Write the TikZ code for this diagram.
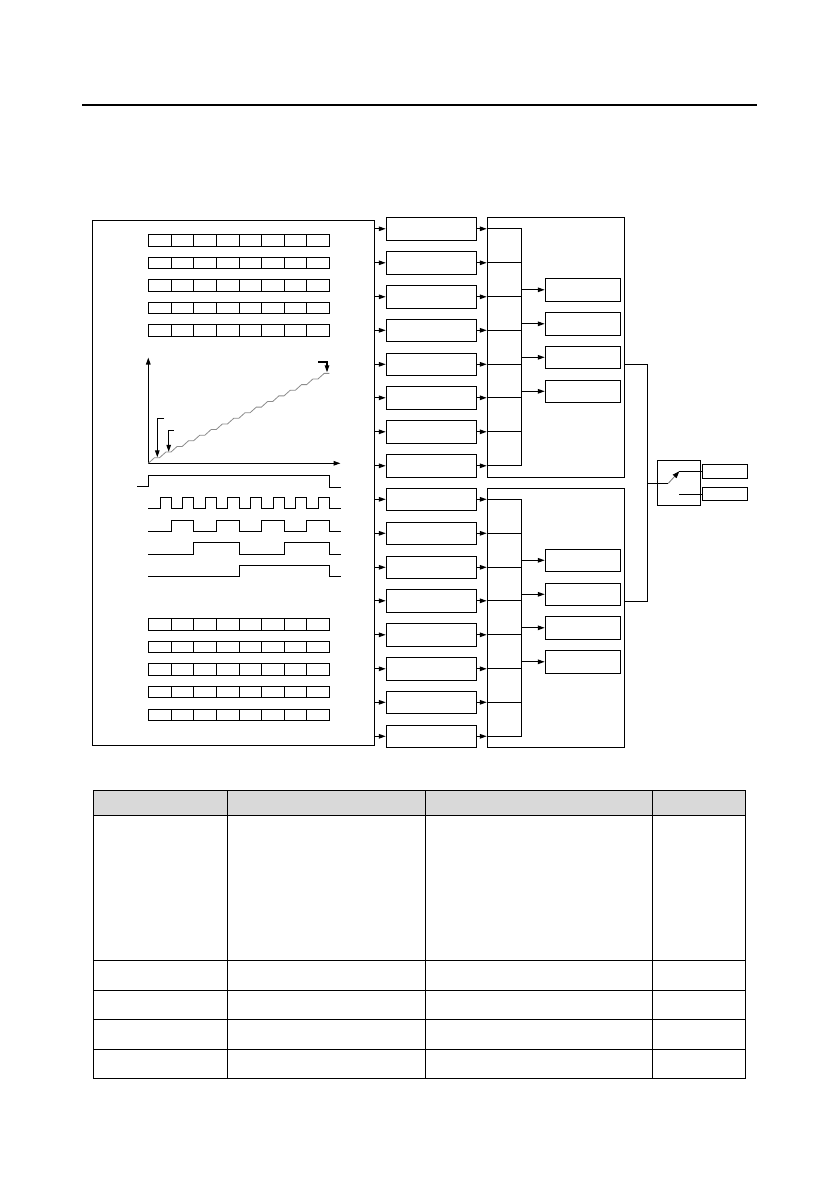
\documentclass[tikz,border=0pt]{standalone}
\usetikzlibrary{arrows.meta}
\tikzset{
  x=1pt,y=-1pt,
  ln/.style={line width=1.25pt,black},
  arr/.style={line width=1.25pt,black,-{Triangle[length=7pt,width=4.5pt]},shorten >=0.5pt},
  thin stair/.style={line width=0.8pt,black!45},
}
\newcommand{\bx}[5]{% name, x1, y1, x2, y2
  \pgfmathsetmacro{\bw}{#4-#2}\pgfmathsetmacro{\bh}{#5-#3}
  \pgfmathsetmacro{\bcx}{(#4+#2)/2}\pgfmathsetmacro{\bcy}{(#5+#3)/2}
  \node[draw,ln,fill=white,rectangle,inner sep=0pt,outer sep=0pt,minimum width=\bw pt,minimum height=\bh pt] (#1) at (\bcx,\bcy) {};
}
\newcommand{\regrow}[2]{% y1,y2
  \draw[ln] (148.3,#1) rectangle (329.3,#2);
  \foreach \vx in {171.3,193.3,216.3,239.3,261.3,284.3,306.3}{\draw[ln] (\vx,#1) -- (\vx,#2);}
}
\begin{document}
\begin{tikzpicture}
\useasboundingbox (0,0) rectangle (839,1191);
\fill[white] (0,0) rectangle (839,1191);
% top rule
\draw[line width=2pt] (82,104.5) -- (757,104.5);
% left panel
\bx{src}{92.3}{220.3}{374.7}{745.3}
\regrow{234.3}{246.3}\regrow{257.3}{268.3}\regrow{279.3}{291.3}\regrow{302.3}{313.3}\regrow{324.3}{336.3}
\regrow{618.3}{630.3}\regrow{641.3}{652.3}\regrow{663.3}{675.3}\regrow{686.3}{697.3}\regrow{709.3}{720.3}
% axes
\coordinate (org) at (148.3,463.3);
\coordinate (yend) at (148.3,357.5);
\coordinate (xend) at (340.5,463.3);
\draw[arr,shorten >=0pt] (org) -- (yend);
\draw[arr,shorten >=0pt] (org) -- (xend);
% staircase ramp
\draw[thin stair] (org)
 \foreach \i in {0,...,15}{
   -- ({148.3+(\i+0.55)*11.31},{463.3-(\i+1)*5.62}) -- ({148.3+(\i+1)*11.31},{463.3-(\i+1)*5.62})
 };
% level arrows
\draw[arr,line width=1.1pt] (164,418.3) -- (157.3,418.3) -- (157.3,457.8);
\draw[arr,line width=1.1pt] (173.7,430.3) -- (168.7,430.3) -- (168.7,452.3);
\draw[arr,line width=1.1pt] (318,362) -- (327,362) -- (327,372.8);
% waveforms
\draw[ln] (137,486.3) -- (148.3,486.3) -- (148.3,475.3) -- (329.3,475.3) -- (329.3,487.3) -- (340.7,487.3);
\draw[ln] (148.3,508.3) -- (160.3,508.3) -- (160.3,497.3) -- (171.3,497.3) -- (171.3,508.3) -- (182.3,508.3) -- (182.3,497.3) -- (193.3,497.3) -- (193.3,508.3) -- (205.3,508.3) -- (205.3,497.3) -- (216.3,497.3) -- (216.3,508.3) -- (227.3,508.3) -- (227.3,497.3) -- (239.3,497.3) -- (239.3,508.3) -- (250.3,508.3) -- (250.3,497.3) -- (261.3,497.3) -- (261.3,508.3) -- (273.3,508.3) -- (273.3,497.3) -- (284.3,497.3) -- (284.3,508.3) -- (295.3,508.3) -- (295.3,497.3) -- (306.3,497.3) -- (306.3,508.3) -- (318.3,508.3) -- (318.3,497.3) -- (329.3,497.3) -- (329.3,508.3) -- (340.7,508.3);
\draw[ln] (148.3,531.3) -- (171.3,531.3) -- (171.3,520.3) -- (193.3,520.3) -- (193.3,531.3) -- (216.3,531.3) -- (216.3,520.3) -- (239.3,520.3) -- (239.3,531.3) -- (261.3,531.3) -- (261.3,520.3) -- (284.3,520.3) -- (284.3,531.3) -- (306.3,531.3) -- (306.3,520.3) -- (329.3,520.3) -- (329.3,531.3) -- (340.7,531.3);
\draw[ln] (148.3,554.3) -- (193.3,554.3) -- (193.3,542.3) -- (239.3,542.3) -- (239.3,554.3) -- (284.3,554.3) -- (284.3,542.3) -- (329.3,542.3) -- (329.3,554.3) -- (340.7,554.3);
\draw[ln] (148.3,576.3) -- (239.3,576.3) -- (239.3,565.3) -- (329.3,565.3) -- (329.3,576.3) -- (340.7,576.3);
% group panels
\bx{gA}{487.3}{217.3}{624.5}{477.3}
\bx{gB}{487.3}{488.3}{624.5}{747.3}
% middle boxes
\foreach \n/\a/\b in {a1/217.3/240.3,a2/251.3/274.3,a3/285.3/308.3,a4/319.3/341.3,a5/353.3/375.3,a6/386.3/409.3,a7/420.3/443.3,a8/454.3/477.3}{
  \bx{\n}{386.3}{\a}{476.3}{\b}
  \draw[arr] (src.east |- \n.west) -- (\n.west);
  \draw[arr] (\n.east) -- (gA.west |- \n.east);
}
\foreach \n/\a/\b in {b1/488.3/510.3,b2/522.3/544.3,b3/556.3/578.3,b4/589.3/612.3,b5/623.3/646.3,b6/657.3/680.3,b7/691.3/713.3,b8/725.3/747.3}{
  \bx{\n}{386.3}{\a}{476.3}{\b}
  \draw[arr] (src.east |- \n.west) -- (\n.west);
  \draw[arr] (\n.east) -- (gB.west |- \n.east);
}
% buses
\coordinate (busx) at (521.3,0);
\foreach \n in {a1,a2,a3,a4,a5,a6,a7,a8}{\draw[ln] (gA.west |- \n.east) -- (busx |- \n.east);}
\foreach \n in {b1,b2,b3,b4,b5,b6,b7,b8}{\draw[ln] (gB.west |- \n.east) -- (busx |- \n.east);}
\draw[ln,line cap=rect] (busx |- a1.east) -- (busx |- a8.east);
\draw[ln,line cap=rect] (busx |- b1.east) -- (busx |- b8.east);
% small boxes
\foreach \n/\a/\b in {c1/278.3/301.3,c2/312.3/335.3,c3/346.3/368.3,c4/380.3/402.3,d1/549.3/571.3,d2/583.3/605.3,d3/616.3/639.3,d4/650.3/673.3}{
  \bx{\n}{545.3}{\a}{620.7}{\b}
  \draw[arr] (busx |- \n.west) -- (\n.west);
}
% switch
\bx{sw}{657.3}{460.3}{700.7}{505.3}
\bx{o1}{702.3}{464.3}{747.7}{478.3}
\bx{o2}{702.3}{487.3}{747.7}{500.3}
\coordinate (rb) at (647.3,0);
\coordinate (swin) at (668.3,483.3);
\coordinate (swup) at (679.3,471.3);
\coordinate (swlo) at (679.3,494.3);
\draw[ln,line join=miter] (gA.east |- 0,364.3) -- (rb |- 0,364.3) -- (rb |- 0,601.3) -- (gB.east |- 0,601.3);
\draw[ln] (rb |- swin) -- (swin);
\draw[line width=0.8pt,black!55,-{Triangle[length=7pt,width=5pt,black]}] (swin) -- (swup);
\draw[ln] (swup) -- (swup -| o1.west);
\draw[ln] (swlo) -- (swlo -| o2.west);
% table
\fill[black!15] (93.5,790.3) rectangle (745.5,815.3);
\draw[line width=1.2pt] (93.5,790.3) rectangle (745.5,1078.3);
\foreach \ty in {815.3,960.3,990.3,1019.3,1049.3}{\draw[line width=1.2pt] (93.5,\ty) -- (745.5,\ty);}
\foreach \tx in {227.5,425.5,652.5}{\draw[line width=1.2pt] (\tx,790.3) -- (\tx,1078.3);}
\end{tikzpicture}
\end{document}
